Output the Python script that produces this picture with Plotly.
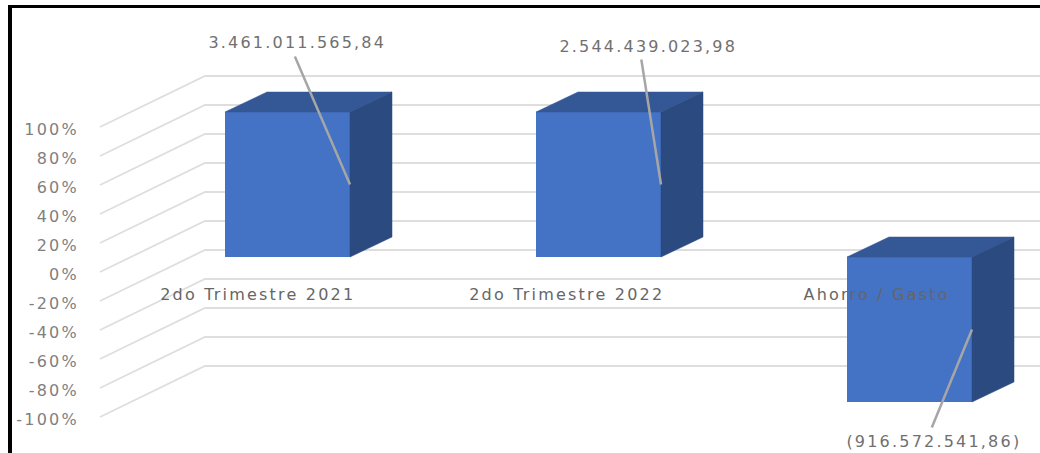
import plotly.graph_objects as go

categories = ["2do Trimestre 2021", "2do Trimestre 2022", "Ahorro / Gasto"]
percent_values = [100, 100, -100]
value_labels = ["3.461.011.565,84", "2.544.439.023,98", "(916.572.541,86)"]
tick_values = [100, 80, 60, 40, 20, 0, -20, -40, -60, -80, -100]
tick_labels = ["100%", "80%", "60%", "40%", "20%", "0%", "-20%", "-40%", "-60%", "-80%", "-100%"]

W, H = 1040, 453
LEFT = 88
PX_X = 311.0       # pixels per category
PX_Y = 1.45        # pixels per percent
CENTER0 = 287.5    # pixel of first category centre
ZERO_FRONT = 272.0 # pixel of 0% on the outer axis
ZERO_BAR = 257.0   # pixel of 0% on the bar plane
BAR_W = 125 / PX_X
BAR_DX, BAR_DY = 42 / PX_X, 20 / PX_Y
WALL_DX, WALL_DY = 105 / PX_X, 51 / PX_Y
XMIN, XMAX = (LEFT - CENTER0) / PX_X, (W - CENTER0) / PX_X
FRONT_X = (100 - CENTER0) / PX_X

fig = go.Figure()

# perspective gridlines
gx, gy = [], []
for v in tick_values:
    gx += [FRONT_X, FRONT_X + WALL_DX, XMAX, None]
    gy += [v, v + WALL_DY, v + WALL_DY, None]
fig.add_trace(go.Scatter(x=gx, y=gy, mode="lines", yaxis="y",
                         line=dict(color="#dedede", width=1.8),
                         hoverinfo="skip", showlegend=False))

# front faces
fig.add_trace(go.Bar(x=list(range(len(categories))), y=percent_values, width=BAR_W,
                     yaxis="y2", marker=dict(color="#4472c4", line=dict(width=0)),
                     hoverinfo="skip", showlegend=False))

# top and side faces
for i, v in enumerate(percent_values):
    hi, lo = max(v, 0), min(v, 0)
    l, r = i - BAR_W / 2, i + BAR_W / 2
    fig.add_trace(go.Scatter(x=[l, l + BAR_DX, r + BAR_DX, r, l],
                             y=[hi, hi + BAR_DY, hi + BAR_DY, hi, hi],
                             yaxis="y2", mode="lines", fill="toself", fillcolor="#345795",
                             line=dict(color="#345795", width=0.5),
                             hoverinfo="skip", showlegend=False))
    fig.add_trace(go.Scatter(x=[r, r + BAR_DX, r + BAR_DX, r, r],
                             y=[hi, hi + BAR_DY, lo + BAR_DY, lo, hi],
                             yaxis="y2", mode="lines", fill="toself", fillcolor="#2a4a80",
                             line=dict(color="#2a4a80", width=0.5),
                             hoverinfo="skip", showlegend=False))

annotations = []
# category labels lie on the floor, shifted left of the bar centres
for i, c in enumerate(categories):
    annotations.append(dict(x=i, y=0, xref="x", yref="y2", text=c, showarrow=False,
                            xshift=[-30, -32, -33][i], yshift=-37,
                            font=dict(family="DejaVu Sans", size=16, color="#666666")))
# value labels and their separate leader lines
text_offsets = [(-53, -142), (-13, -138), (-38, 112)]
line_offsets = [(-56, -130), (-20, -127), (-41, 100)]
for i, (v, t) in enumerate(zip(percent_values, value_labels)):
    annotations.append(dict(x=i + BAR_W / 2, y=v / 2, xref="x", yref="y2", text=" ",
                            showarrow=True, arrowhead=0, arrowwidth=2.5, arrowcolor="#a6a6a6",
                            ax=line_offsets[i][0], ay=line_offsets[i][1],
                            axref="pixel", ayref="pixel", font=dict(size=1)))
    annotations.append(dict(x=i + BAR_W / 2, y=v / 2, xref="x", yref="y2", text=t,
                            showarrow=False, xshift=text_offsets[i][0], yshift=-text_offsets[i][1],
                            font=dict(family="DejaVu Sans", size=16, color="#707070")))

def px(x): return (x - LEFT) / (W - LEFT)
def py(y): return 1 - y / H

shapes = [
    dict(type="rect", xref="paper", yref="paper", x0=px(8), x1=px(W), y0=py(8), y1=py(5),
         fillcolor="black", line=dict(width=0)),
    dict(type="rect", xref="paper", yref="paper", x0=px(8), x1=px(12), y0=py(H), y1=py(5),
         fillcolor="black", line=dict(width=0)),
]

fig.update_layout(
    width=W, height=H, margin=dict(l=LEFT, r=0, t=0, b=0),
    paper_bgcolor="white", plot_bgcolor="white",
    xaxis=dict(range=[XMIN, XMAX], visible=False, fixedrange=True),
    yaxis=dict(range=[(ZERO_FRONT - H) / PX_Y, ZERO_FRONT / PX_Y],
               tickvals=tick_values, ticktext=tick_labels, showgrid=False, zeroline=False,
               showline=False, ticks="outside", ticklen=5, tickcolor="rgba(0,0,0,0)",
               ticklabelshift=2,
               tickfont=dict(family="DejaVu Sans", size=16, color="#7f7f7f"), fixedrange=True),
    yaxis2=dict(range=[(ZERO_BAR - H) / PX_Y, ZERO_BAR / PX_Y], overlaying="y", visible=False,
                fixedrange=True),
    annotations=annotations, shapes=shapes,
)

css = ("document.body.style.margin='0';document.body.style.overflow='hidden';"
       "var s=document.createElement('style');"
       "s.textContent='svg text{letter-spacing:2.2px}';document.head.appendChild(s);")
fig.write_html("out.html", post_script=css, config={"displayModeBar": False})
